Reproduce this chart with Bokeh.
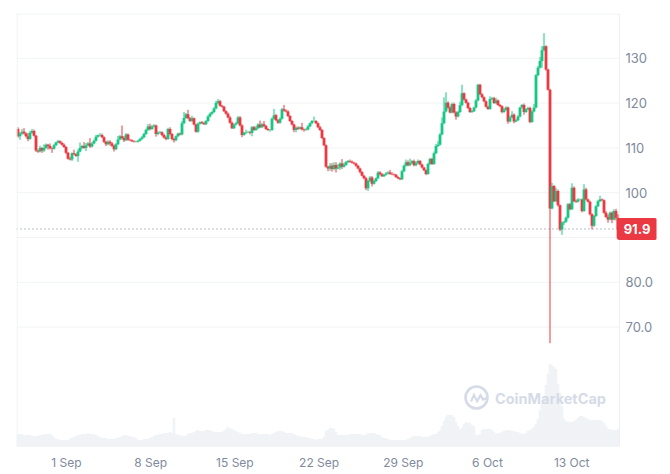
from bokeh.plotting import figure
from bokeh.models import (Range1d, FixedTicker, Span, Label, BoxAnnotation,
                          PolyAnnotation, ColumnDataSource)
from bokeh.embed import file_html
from bokeh.resources import INLINE

first_open = 114.2
closes = [
112.6,113.2,113.6,113.2,112.6,112.0,113.4,113.8,112.7,109.4,
109.2,110.0,109.4,110.0,110.7,110.4,109.9,109.8,110.6,111.2,
111.5,111.1,110.7,110.2,108.9,107.6,107.4,108.8,108.6,108.2,
109.2,110.0,110.4,110.0,110.6,111.0,110.3,111.0,111.6,112.5,
112.8,112.9,112.4,111.4,110.8,111.4,111.0,110.5,109.7,110.8,
111.9,112.6,112.2,111.7,113.0,111.8,111.7,111.5,111.4,111.4,
111.6,112.0,112.4,113.1,114.0,114.8,114.2,114.8,115.0,113.1,
113.4,113.5,112.9,112.3,112.0,114.2,113.1,112.0,111.7,112.6,
113.2,113.0,115.5,116.7,117.5,116.6,116.0,116.6,115.2,113.6,
115.4,115.7,115.5,115.3,116.0,117.0,117.6,118.0,118.8,120.0,
120.4,119.4,119.2,118.2,117.6,116.8,115.6,114.4,115.2,115.5,
116.8,115.0,112.9,113.4,113.5,113.5,113.3,114.6,114.0,114.4,
115.2,114.6,115.3,114.9,114.2,114.0,114.0,116.5,117.3,116.2,
115.6,116.5,118.6,118.3,118.1,117.1,116.0,115.2,114.0,114.5,
114.3,114.6,114.1,114.0,114.1,114.8,115.5,116.0,116.0,115.5,
114.6,114.0,112.2,110.6,105.8,105.4,106.0,105.3,106.2,105.4,
105.6,106.5,105.8,106.2,106.8,107.1,106.9,106.7,106.5,106.0,
105.4,104.6,103.8,103.2,101.0,102.6,103.4,102.0,102.6,103.2,
104.5,104.1,103.7,104.0,104.3,104.5,104.2,104.1,104.0,103.5,
103.2,103.0,104.8,106.0,106.8,106.1,106.6,107.0,106.1,106.6,
107.1,106.3,105.6,105.0,104.2,106.4,107.5,106.4,108.8,110.4,
110.7,113.0,115.5,118.1,120.1,119.0,117.9,119.8,117.9,117.0,
118.0,119.5,122.2,120.8,120.1,118.9,118.0,118.2,119.0,120.6,
124.1,122.0,121.3,120.4,119.2,118.7,120.9,121.1,120.0,120.6,
119.6,119.3,118.0,118.5,119.0,115.9,116.8,117.4,115.9,116.2,
117.0,119.0,119.6,118.0,118.6,118.9,115.8,118.1,119.0,126.2,
127.9,129.4,131.8,132.7,127.5,123.0,96.5,101.5,98.1,100.4,
97.2,91.8,93.3,93.5,94.4,97.4,96.3,101.1,98.1,98.0,
98.5,98.5,95.9,100.7,98.5,98.0,95.2,92.6,94.8,97.0,
98.1,98.5,98.3,95.5,94.6,94.0,95.5,94.0,95.9,94.4,
91.9]
upper_wicks = [
.4,.3,.6,.8,.3,.7,.4,.4,.3,.2,
.2,.5,.2,.8,.3,.2,.6,.2,.3,.2,
.3,.2,.3,.3,.2,.2,.4,.2,.8,.2,
.5,1.2,.3,.9,.5,.3,1.2,.3,.3,.4,
.2,.4,.3,.2,.2,.3,.3,.3,.2,.3,
.8,.3,2.4,.4,.3,.2,.2,.2,.2,.2,
.2,.2,.3,.3,.3,.5,.6,.3,.3,.2,
.3,.3,.2,.3,.3,.3,.4,.2,.2,.2,
.2,.2,.5,1.3,.3,1,.3,.6,.2,.2,
.3,.2,.3,.3,.2,.3,.3,.2,.3,.5,
.5,.3,.2,.2,.2,.3,.3,.3,.2,.3,
.3,.3,.3,.2,.6,.3,.3,.3,.3,.5,
.3,.9,.3,.7,.2,.2,.2,.3,1.4,.3,
.2,.3,.3,1,.3,.3,.2,.2,.2,.3,
.3,.2,1,.2,.3,.3,.2,.2,1,.2,
.2,.3,.2,.2,.2,.2,.6,.6,.6,.6,
.8,.3,1,.5,.3,.2,.3,.3,.2,.2,
.2,.2,.2,.2,.3,.3,.3,.3,.3,.2,
.3,.3,.3,.2,.3,.3,.6,.4,.2,.2,
.2,.2,.3,.3,.6,.4,1,.3,.4,.4,
.3,.2,.2,.2,.2,.3,.3,.3,.4,.5,
.8,.3,1.3,3.2,2.3,.3,.3,.3,.3,.3,
.3,.8,1.9,.2,.2,.2,.2,.2,.2,.3,
.2,.2,.2,.2,.2,.2,.6,.3,.3,.6,
.2,.2,.2,.4,.3,.2,.3,.8,.3,.2,
.3,.2,.2,.3,.2,.3,.3,.3,.8,.3,
.4,.9,.9,2.9,.2,.2,.2,.7,.2,.7,
.3,.2,.3,.2,.3,.3,.3,1,.3,.4,
.3,.2,.2,1.2,.4,.2,.2,.2,.2,.2,
.3,.8,.2,.2,.4,.5,.3,.3,.4,.5,
.8]
lower_wicks = [
.3,.8,.3,.2,.3,.5,.2,.2,.2,.3,
.3,.2,.5,.3,.2,.8,.2,.9,.2,.2,
.2,.2,.2,.2,.3,.2,.2,.3,.2,.2,
1.3,.2,.3,.2,.7,.2,.3,.2,.2,.2,
.2,.2,.2,.3,.4,.2,.5,.3,.5,.2,
.2,.2,.3,.4,.2,.2,.2,.2,.2,.2,
.2,.2,.2,.2,.2,.2,.3,.2,.2,.6,
.3,.2,.3,.2,.3,.2,.3,.3,.5,.2,
.2,.2,.2,.2,.2,.2,.2,.2,.2,.2,
.2,.2,.2,.2,.2,.2,.2,.2,.2,.2,
.2,.2,.2,.2,.2,.2,.2,.2,.2,.2,
.2,.2,.5,.2,.3,.2,.3,.7,.2,.2,
.2,.2,.2,.3,.2,.2,.4,.2,.2,.2,
.2,.2,.2,.2,.2,.2,.2,.2,.5,.5,
.3,.2,.2,.4,.2,.2,.2,.2,.2,.2,
.2,.2,.2,.2,.2,.6,.5,.6,.3,.9,
.2,.5,.5,.2,.2,.2,.2,.2,.2,.2,
.2,.3,.2,.2,.4,.6,.2,.6,.2,.2,
.2,.2,.2,.2,.2,.2,.2,.2,.2,.2,
.2,.2,.2,.2,.2,.2,.2,.2,.2,.2,
.2,.2,.2,.2,.3,.2,.2,.2,.2,.2,
.2,.2,.2,.2,.2,.3,.2,.2,.2,.7,
.2,.2,.2,.2,.2,.2,.2,.2,.2,.2,
.2,.2,.2,.2,.2,.2,.2,.2,.2,.2,
.2,.2,.3,.2,.2,.5,.2,.2,.4,.2,
.2,.2,.2,.6,.2,.2,.3,.2,.2,.2,
.2,.2,1.5,.2,.3,.2,30.1,.2,.2,.2,
.3,.4,1.2,.5,.2,.2,.2,.2,.2,.3,
.2,.2,.3,.2,.2,.2,.3,.8,.2,.2,
.2,.2,.2,.2,.2,.7,.2,.8,.2,.6,
.2]
volumes = [
12,12,12,11,11,11,11,10,10,10,
10,11,11,12,12,12,12,11,9,7,
7,6,6,6,6,6,7,8,9,10,
11,11,12,12,12,13,12,12,12,11,
10,9,8,8,8,7,7,7,7,8,
8,9,10,11,11,10,10,9,9,8,
6,6,6,7,7,7,8,9,10,11,
11,12,12,13,13,13,14,13,28,12,
11,11,10,10,10,12,13,13,14,15,
16,15,15,15,16,16,16,15,14,14,
14,14,14,15,17,19,18,17,16,15,
14,13,12,12,12,12,12,13,13,13,
12,12,12,12,12,12,11,12,13,14,
15,15,15,14,13,13,13,13,12,11,
10,10,9,9,9,8,8,7,7,6,
7,7,7,9,15,16,18,18,17,14,
11,11,11,11,11,11,12,12,12,12,
12,12,11,11,11,13,13,13,13,12,
11,11,9,8,8,7,6,6,6,6,
6,6,6,6,6,7,8,9,10,10,
10,10,9,9,9,9,10,11,12,12,
14,15,20,25,29,31,31,31,29,24,
20,17,18,22,24,23,23,21,20,11,
11,12,16,17,17,17,17,16,14,12,
13,13,14,15,16,16,16,15,15,14,
14,13,12,12,13,15,16,17,19,22,
27,36,43,50,61,72,82,81,79,77,
62,53,40,27,25,24,24,24,25,26,
28,30,30,29,28,27,26,26,26,26,
26,26,25,23,20,17,17,16,16,16,
17]
date_labels = ["1 Sep", "8 Sep", "15 Sep", "22 Sep", "29 Sep", "6 Oct", "13 Oct"]
date_ticks = [24.25, 66.35, 108.45, 150.55, 192.65, 234.75, 276.85]
price_grid = [70, 80, 90, 100, 110, 120, 130]
price_ticks = {70: "70.0", 80: "80.0", 100: "100", 110: "110", 120: "120", 130: "130"}

GREEN, RED = "#16c784", "#ea3943"
TICK = "#808a9d"
GRID = "#f1f3f5"
BORDER = "#eceff3"
WM = "#d5dbe7"
VOL = "#f0f3f6"

X_START, X_LAST, X_END = -0.75, 300.75, 319.25
Y_BOT, Y_TOP = 43.35, 140.0

def jx(px):
    return X_START + (px - 16) * (X_END - X_START) / 640

def vy(py):
    return Y_TOP - (py - 13) * (Y_TOP - Y_BOT) / 433

opens = [first_open] + closes[:-1]
idx = list(range(len(closes)))
highs = [max(o, c) + u for o, c, u in zip(opens, closes, upper_wicks)]
lows = [min(o, c) - l for o, c, l in zip(opens, closes, lower_wicks)]
colors = [GREEN if c >= o else RED for o, c in zip(opens, closes)]
src = ColumnDataSource(dict(x=idx, o=opens, c=closes, h=highs, l=lows, col=colors, v=volumes))

p = figure(width=670, height=470, frame_width=640, frame_height=433,
           output_backend="svg", toolbar_location=None,
           x_range=Range1d(X_START, X_END), y_range=Range1d(Y_BOT, Y_TOP),
           y_axis_location="right",
           min_border_left=16, min_border_top=13, min_border_right=14, min_border_bottom=24)
p.extra_y_ranges = {"vol": Range1d(0, 433)}
p.background_fill_color = "white"
p.border_fill_color = "white"
p.outline_line_color = None

p.xgrid.visible = False
p.ygrid.visible = False
p.segment(x0=[X_START] * len(price_grid), x1=[X_LAST] * len(price_grid),
          y0=price_grid, y1=price_grid, line_color=GRID, line_width=1)
# plot area border
p.add_layout(Span(location=X_START + 0.25, dimension="height", line_color=BORDER, line_width=1))
p.add_layout(Span(location=X_LAST, dimension="height", line_color=BORDER, line_width=1))
p.segment(x0=[X_START, X_START], x1=[X_LAST, X_LAST], y0=[vy(13.5), vy(445.5)], y1=[vy(13.5), vy(445.5)],
          line_color=BORDER, line_width=1)

for ax, size in ((p.xaxis[0], "12px"), (p.yaxis[0], "13px")):
    ax.axis_line_color = None
    ax.major_tick_line_color = None
    ax.minor_tick_line_color = None
    ax.major_tick_in = 0
    ax.major_tick_out = 0
    ax.major_label_text_color = TICK
    ax.major_label_text_font = "Inter"
    ax.major_label_text_font_size = size
p.xaxis[0].ticker = FixedTicker(ticks=date_ticks)
p.xaxis[0].major_label_overrides = dict(zip(date_ticks, date_labels))
p.xaxis[0].major_label_standoff = 8
p.yaxis[0].ticker = FixedTicker(ticks=list(price_ticks))
p.yaxis[0].major_label_overrides = price_ticks
p.yaxis[0].major_label_standoff = -31

p.vbar(x="x", top="v", bottom=0, width=0.85, color=VOL, y_range_name="vol", source=src)

p.segment(x0="x", x1="x", y0="l", y1="h", line_color="col", line_width=1, source=src)
p.vbar(x="x", top="o", bottom="c", width=1.4, fill_color="col", line_color=None, source=src)

p.segment(x0=[X_START], x1=[X_LAST], y0=[closes[-1]], y1=[closes[-1]], line_color="#6f7a8c",
          line_width=1, line_dash="1 3")

# CoinMarketCap watermark (page pixel positions converted through the scales)
p.add_layout(BoxAnnotation(left=jx(465), right=jx(487), top=vy(386), bottom=vy(408),
                           fill_alpha=0, line_color=WM, line_width=2.6, line_alpha=1,
                           border_radius=11))
wave_top = [(469.5, 400.5), (473.5, 392), (476.5, 398.5), (480, 392.5), (483, 397.5), (486, 396.5)]
wave_bot = [(486, 399), (482, 400.5), (480, 397), (476.5, 403), (473.5, 397), (471.5, 401.5)]
wave = wave_top + wave_bot
p.add_layout(PolyAnnotation(xs=[jx(q[0]) for q in wave], ys=[vy(q[1]) for q in wave],
                            fill_color=WM, fill_alpha=1, line_color=None))
p.add_layout(Label(x=jx(494.5), y=vy(397.5), text="CoinMarketCap",
                   text_font="Inter", text_font_style="bold", text_font_size="14.5px",
                   text_color=WM, text_align="left", text_baseline="middle"))

# last price tag
p.add_layout(Label(x=jx(636.5), y=closes[-1],
                   text=f"{closes[-1]:.1f}", text_font="Inter", text_font_style="bold",
                   text_font_size="13px", text_color="white", text_align="center",
                   text_baseline="middle", background_fill_color=RED,
                   background_fill_alpha=1, border_radius=3, padding=(7, 6)))

open("out.html", "w").write(file_html(p, INLINE))
